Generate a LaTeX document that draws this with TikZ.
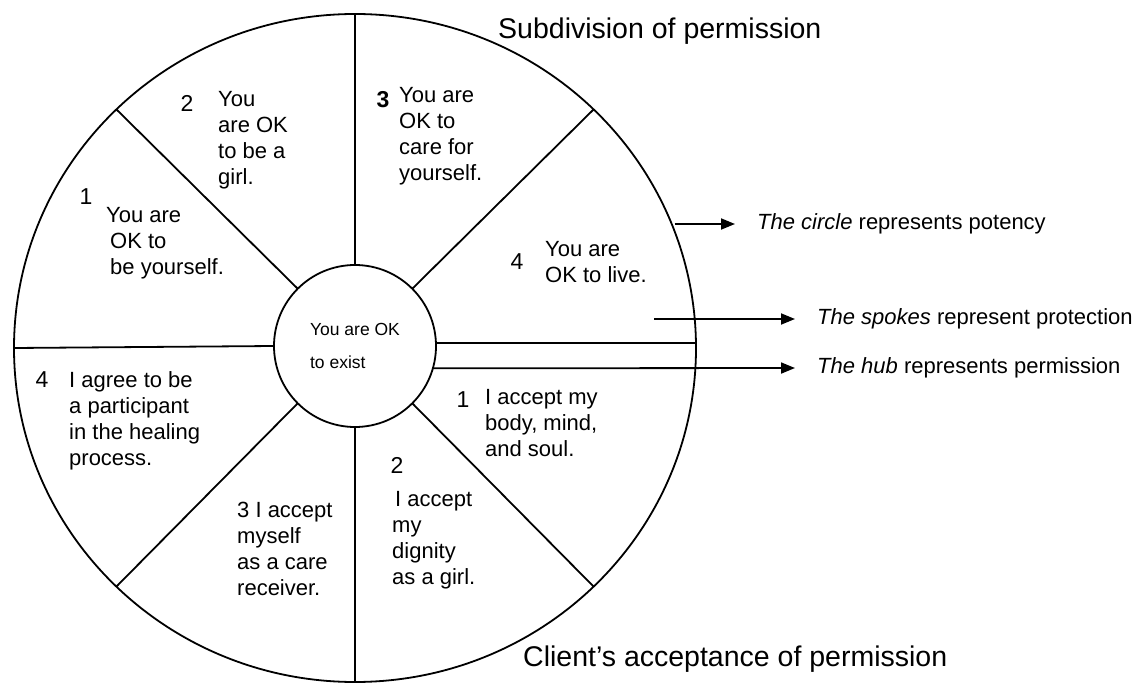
\documentclass[tikz,border=0pt]{standalone}
\usepackage{fontspec}
\setmainfont{Liberation Sans}
\usetikzlibrary{shapes.geometric,arrows.meta}

\begin{document}
\begin{tikzpicture}[x=1pt,y=-1pt]
\tikzstyle{rim}=[ellipse, draw=black, line width=1.8pt, inner sep=0pt, outer sep=0pt, minimum width=682pt, minimum height=668pt]
\tikzstyle{hub}=[circle, draw=black, line width=1.8pt, inner sep=0pt, outer sep=0pt, minimum size=162pt, align=left, font=\fontsize{17.5}{33}\selectfont]
\tikzstyle{spoke}=[line width=1.8pt]
\tikzstyle{connect}=[-{Triangle[length=14pt,width=11pt]}, line width=1.8pt, shorten >=22pt]
\tikzstyle{seg}=[anchor=north west, align=left, inner sep=0pt, font=\fontsize{22}{26}\selectfont]
\tikzstyle{num}=[inner sep=0pt, font=\fontsize{23}{26}\selectfont]
\tikzstyle{note}=[anchor=west, inner sep=0pt, font=\fontsize{22}{26}\selectfont]
\tikzstyle{title}=[anchor=base west, inner sep=0pt, font=\fontsize{28.5}{34}\selectfont]

  \useasboundingbox (0,0) rectangle (1137,684);

  \node[rim] (rim) at (355,348) {};
  \node[hub] (hub) at (355,346) {You are OK\\to exist};

  \foreach \a in {45,90,...,315}
    \draw[spoke] (hub.\a) -- (rim.\a);
  \draw[spoke] (hub.2) -- (hub.2 -| rim.east);

  % upper half: permission
  \node[num] (n1) at (86,197)  {1};
  \node[seg] (you1) at (106,207) {You are\\\hspace{4pt}OK to\\\hspace{4pt}be yourself.};
  \node[num] (n2) at (187,103) {2};
  \node[seg] (you2) at (218,91)  {You\\are OK\\to be a\\girl.};
  \node[num] (n3) at (383,100) {\textbf{3}};
  \node[seg] (you3) at (399,87)  {You are\\OK to\\care for\\yourself.};
  \node[num] (n4) at (517,262) {4};
  \node[seg] (you4) at (545,241) {You are\\OK to live.};

  % lower half: acceptance
  \node[num] (m1) at (463,400) {1};
  \node[seg] (acc1) at (485,389) {I accept my\\body, mind,\\and soul.};
  \node[num] (m2) at (397,465) {2};
  \node[seg] (acc2) at (392,491) {\hspace{3pt}I accept\\my\\dignity\\as a girl.};
  \node[seg] (acc3) at (237,502) {3 I accept\\myself\\as a care\\receiver.};
  \node[num] (m4) at (42,380)  {4};
  \node[seg] (acc4) at (69,371)  {I agree to be\\a participant\\in the healing\\process.};

  \node[title] (subdiv) at (498,39)  {Subdivision of permission};
  \node[title] (accept) at (523,666) {Client’s acceptance of permission};

  \node[note] (potency)    at (757,224) {\textit{The circle} represents potency};
  \node[note] (protection) at (817,319) {\textit{The spokes} represent protection};
  \node[note] (permission) at (817,368) {\textit{The hub} represents permission};

  \coordinate (spoketail) at (654,319);
  \path (rim.20 |- potency.west) edge [connect] (potency.west);
  \path (spoketail) edge [connect] (protection.west);
  \path (hub.-16) edge [connect] (permission.west);

\end{tikzpicture}
\end{document}
